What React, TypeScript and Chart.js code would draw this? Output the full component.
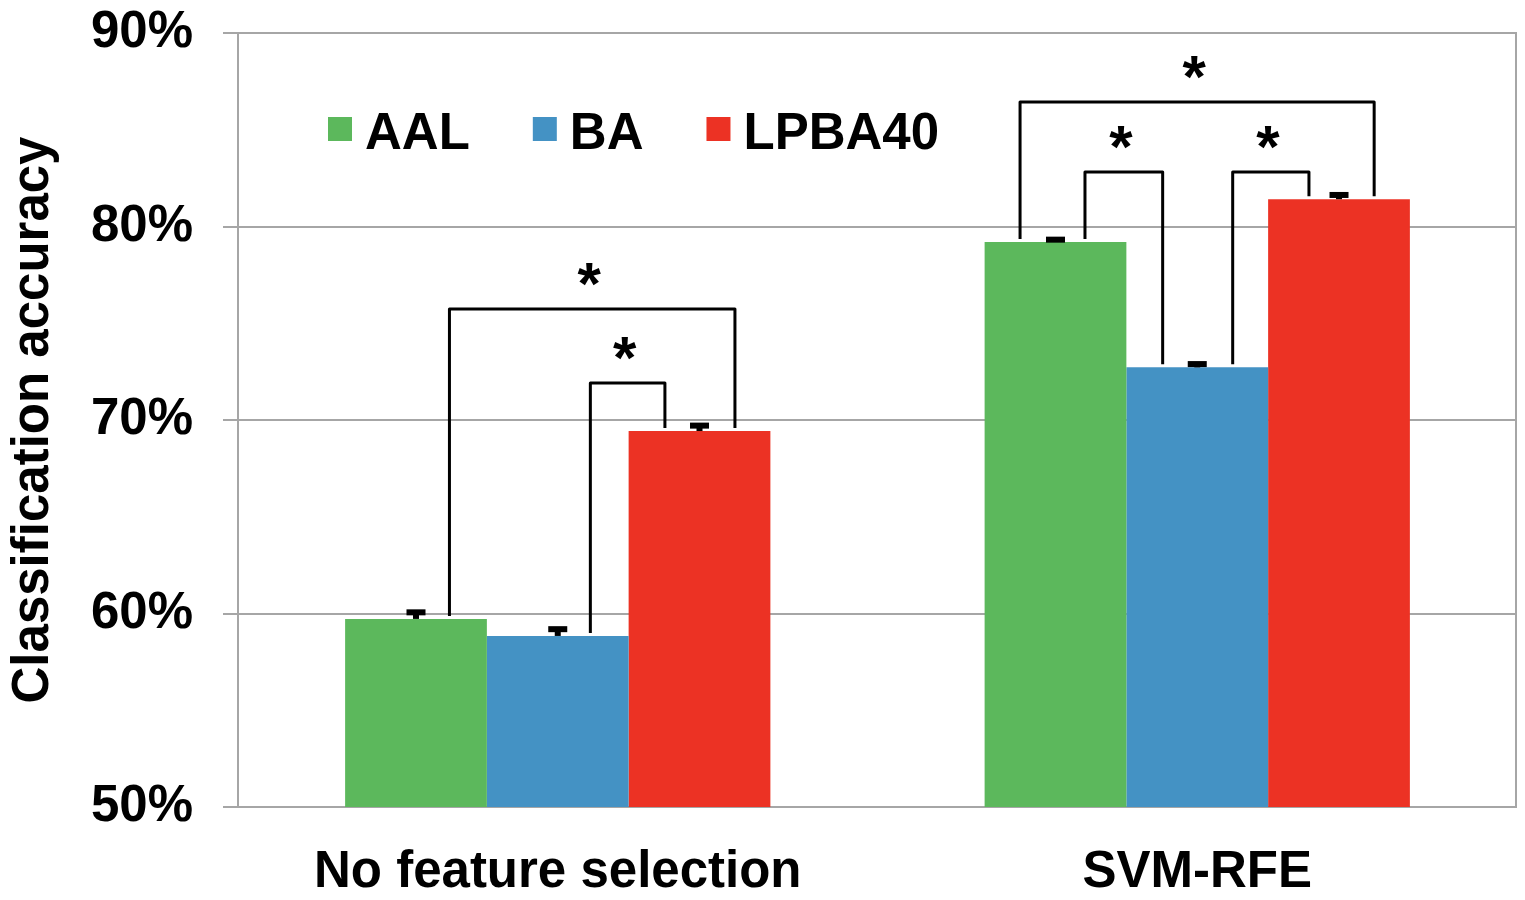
import React, { useEffect, useRef } from 'react';
import { Chart, registerables } from 'chart.js';

Chart.register(...registerables);

const categories = ['No feature selection', 'SVM-RFE'];
const seriesNames = ['AAL', 'BA', 'LPBA40'];
const seriesColors = ['#5cb85c', '#4492c4', '#ec3224'];
const aalValues = [59.72, 79.2];
const baValues = [58.84, 72.72];
const lpbaValues = [69.43, 81.41];
const aalErrors = [0.34, 0.12];
const baErrors = [0.35, 0.17];
const lpbaErrors = [0.28, 0.22];
const yMin = 50;
const yMax = 90;
const yStep = 10;

// significance brackets: category index, from series, to series, height (value), label
const bracketCategory = [0, 0, 1, 1, 1];
const bracketFrom = [0, 1, 0, 0, 1];
const bracketTo = [2, 2, 2, 1, 2];
const bracketHeight = [75.74, 71.91, 86.43, 82.82, 82.82];
const bracketLabel = ['*', '*', '*', '*', '*'];

const FONT = '"Liberation Sans", Arial, Helvetica, sans-serif';

// leg offsets as a fraction of bar width (style)
const legFromOffset = [0.236, 0.23, -0.25, 0.208, 0.25];
const legToOffset = [0.25, -0.244, 0.248, -0.244, -0.212];

const errorBarPlugin = {
  id: 'errorBars',
  afterDatasetsDraw(chart: any) {
    const ctx = chart.ctx;
    const ys = chart.scales.y;
    ctx.save();
    ctx.fillStyle = '#000';
    chart.data.datasets.forEach((ds: any, di: number) => {
      const meta = chart.getDatasetMeta(di);
      meta.data.forEach((el: any, i: number) => {
        const v = ds.data[i];
        const e = ds.errors[i];
        const yt = ys.getPixelForValue(v + e);
        ctx.fillRect(el.x - 3, yt, 6, el.y - yt);
        ctx.fillRect(el.x - 9.5, yt - 3, 19, 6);
      });
    });
    ctx.restore();
  },
};

const bracketPlugin = {
  id: 'brackets',
  afterDatasetsDraw(chart: any) {
    const ctx = chart.ctx;
    const ys = chart.scales.y;
    ctx.save();
    ctx.strokeStyle = '#000';
    ctx.lineWidth = 3;
    ctx.lineJoin = 'round';
    ctx.lineCap = 'butt';
    ctx.fillStyle = '#000';
    ctx.font = `bold 60px ${FONT}`;
    ctx.textAlign = 'center';
    ctx.textBaseline = 'alphabetic';
    for (let b = 0; b < bracketCategory.length; b++) {
      const c = bracketCategory[b];
      const e1 = chart.getDatasetMeta(bracketFrom[b]).data[c];
      const e2 = chart.getDatasetMeta(bracketTo[b]).data[c];
      const x1 = e1.x + legFromOffset[b] * e1.width;
      const x2 = e2.x + legToOffset[b] * e2.width;
      const y1 = e1.y - 3;
      const y2 = e2.y - 3;
      const yt = ys.getPixelForValue(bracketHeight[b]);
      ctx.beginPath();
      ctx.moveTo(x1, y1);
      ctx.lineTo(x1, yt);
      ctx.lineTo(x2, yt);
      ctx.lineTo(x2, y2);
      ctx.stroke();
      const m = ctx.measureText(bracketLabel[b]);
      const a = m.actualBoundingBoxAscent;
      const d = m.actualBoundingBoxDescent;
      const cy = yt - 34.5;
      const baseline = cy + (a - d) / 2;
      ctx.fillText(bracketLabel[b], (x1 + x2) / 2 - 3, baseline);
    }
    ctx.restore();
  },
};

const legendPlugin = {
  id: 'customLegend',
  afterDraw(chart: any) {
    const ctx = chart.ctx;
    const area = chart.chartArea;
    ctx.save();
    ctx.font = `bold 51px ${FONT}`;
    ctx.textAlign = 'left';
    ctx.textBaseline = 'alphabetic';
    let x = area.left + 90;
    const cy = area.top + 96;
    chart.data.datasets.forEach((ds: any) => {
      ctx.fillStyle = ds.backgroundColor;
      ctx.fillRect(x, cy - 12, 24, 24);
      ctx.fillStyle = '#000';
      ctx.fillText(ds.label, x + 37, cy + 20);
      x += 37 + ctx.measureText(ds.label).width + 63;
    });
    ctx.restore();
  },
};

const borderPlugin = {
  id: 'rightBorder',
  beforeDatasetsDraw(chart: any) {
    const ctx = chart.ctx;
    const a = chart.chartArea;
    ctx.save();
    ctx.strokeStyle = '#a6a6a6';
    ctx.lineWidth = 2;
    ctx.beginPath();
    ctx.moveTo(a.right - 1, a.top);
    ctx.lineTo(a.right - 1, a.bottom);
    ctx.stroke();
    ctx.restore();
  },
};

export default function App() {
  const ref = useRef<HTMLCanvasElement | null>(null);

  useEffect(() => {
    if (!ref.current) return;
    const values = [aalValues, baValues, lpbaValues];
    const errors = [aalErrors, baErrors, lpbaErrors];
    const chart = new Chart(ref.current, {
      type: 'bar',
      data: {
        labels: categories,
        datasets: seriesNames.map((name, i) => ({
          label: name,
          data: values[i],
          errors: errors[i],
          backgroundColor: seriesColors[i],
          borderWidth: 0,
          categoryPercentage: 0.665,
          barPercentage: 1.0,
        })) as any,
      },
      options: {
        responsive: false,
        animation: false,
        layout: { padding: { top: 33, right: 8, bottom: 0, left: 0 } },
        plugins: {
          legend: { display: false },
          tooltip: { enabled: false },
        },
        scales: {
          x: {
            grid: { display: false, drawTicks: false },
            border: { display: false },
            ticks: {
              color: '#000',
              font: { family: FONT, size: 51, weight: 'bold' },
              padding: 35,
              maxRotation: 0,
            },
            afterFit: (s: any) => {
              s.height = 93;
            },
          },
          y: {
            min: yMin,
            max: yMax,
            grid: {
              color: '#a6a6a6',
              lineWidth: 2,
              tickLength: 15,
              drawTicks: true,
            },
            border: { display: true, color: '#a6a6a6', width: 2 },
            ticks: {
              stepSize: yStep,
              color: '#000',
              padding: 30,
              font: { family: FONT, size: 51, weight: 'bold' },
              callback: (v: any) => `${v}%`,
            },
            title: {
              display: true,
              text: 'Classification accuracy',
              color: '#000',
              font: { family: FONT, size: 51, weight: 'bold' },
              padding: 3,
            },
            afterFit: (s: any) => {
              s.width = 238;
              s.paddingTop = 0;
              s.paddingBottom = 0;
            },
          },
        },
      },
      plugins: [borderPlugin, errorBarPlugin, bracketPlugin, legendPlugin],
    });
    return () => chart.destroy();
  }, []);

  return (
    <div
      style={{
        position: 'fixed',
        left: 0,
        top: 0,
        width: 1525,
        height: 900,
        background: '#fff',
      }}
    >
      <canvas ref={ref} width={1525} height={900} />
    </div>
  );
}
